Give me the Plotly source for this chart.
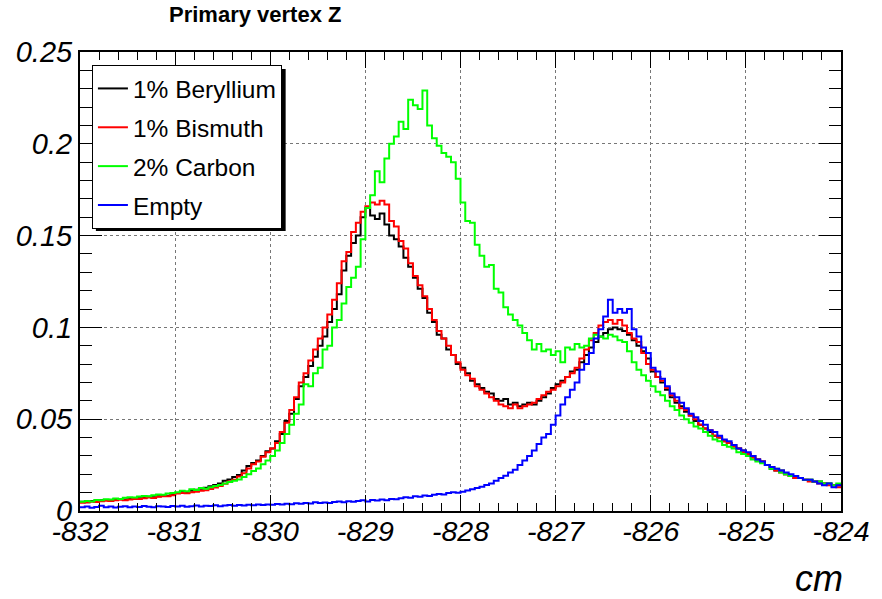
import plotly.graph_objects as go

# Histogram binning: 160 bins of 0.05 cm from -832 to -824
bin_lo = -832.0
bin_w = 0.05

beryllium = [
    0.0050, 0.0048, 0.0055, 0.0052, 0.0058, 0.0060, 0.0057, 0.0063, 0.0066, 0.0062,
    0.0068, 0.0071, 0.0069, 0.0074, 0.0078, 0.0075, 0.0081, 0.0086, 0.0083, 0.0090,
    0.0098, 0.0104, 0.0101, 0.0110, 0.0116, 0.0121, 0.0126, 0.0135, 0.0142, 0.0150,
    0.0165, 0.0172, 0.0185, 0.0196, 0.0220, 0.0245, 0.0262, 0.0275, 0.0300, 0.0325,
    0.034, 0.038, 0.042, 0.049, 0.053, 0.061, 0.068, 0.073, 0.079, 0.084,
    0.090, 0.095, 0.103, 0.110, 0.118, 0.131, 0.139, 0.146, 0.150, 0.160,
    0.165, 0.161, 0.159, 0.162, 0.156, 0.150, 0.148, 0.144, 0.138, 0.133,
    0.127, 0.121, 0.116, 0.108, 0.103, 0.096, 0.094, 0.088, 0.085, 0.080,
    0.078, 0.075, 0.071, 0.069, 0.067, 0.065, 0.064, 0.061, 0.060, 0.061,
    0.058, 0.059, 0.057, 0.058, 0.059, 0.058, 0.060, 0.062, 0.064, 0.067,
    0.069, 0.071, 0.073, 0.076, 0.077, 0.081, 0.085, 0.089, 0.092, 0.095,
    0.097, 0.099, 0.100, 0.099, 0.098, 0.096, 0.093, 0.090, 0.087, 0.083,
    0.076, 0.073, 0.070, 0.066, 0.062, 0.059, 0.057, 0.054, 0.052, 0.049,
    0.047, 0.045, 0.043, 0.041, 0.040, 0.038, 0.037, 0.036, 0.034, 0.033,
    0.031, 0.030, 0.028, 0.027, 0.025, 0.023, 0.022, 0.022, 0.020, 0.019,
    0.018, 0.018, 0.017, 0.017, 0.016, 0.016, 0.015, 0.015, 0.014, 0.014,
]

bismuth = [
    0.0045, 0.0047, 0.0050, 0.0049, 0.0053, 0.0056, 0.0054, 0.0058, 0.0061, 0.0059,
    0.0063, 0.0066, 0.0065, 0.0070, 0.0073, 0.0071, 0.0077, 0.0081, 0.0080, 0.0086,
    0.0095, 0.0098, 0.0096, 0.0102, 0.0105, 0.0110, 0.0113, 0.0120, 0.0128, 0.0136,
    0.0148, 0.0160, 0.0170, 0.0188, 0.0205, 0.0232, 0.0255, 0.0270, 0.0295, 0.0320,
    0.034, 0.037, 0.043, 0.048, 0.055, 0.062, 0.070, 0.075, 0.082, 0.088,
    0.094, 0.100, 0.107, 0.115, 0.124, 0.136, 0.141, 0.152, 0.157, 0.163,
    0.166, 0.168, 0.167, 0.169, 0.167, 0.158, 0.155, 0.147, 0.143, 0.135,
    0.128, 0.123, 0.117, 0.110, 0.104, 0.098, 0.094, 0.090, 0.085, 0.081,
    0.077, 0.074, 0.072, 0.068, 0.066, 0.064, 0.062, 0.060, 0.058, 0.057,
    0.056, 0.058, 0.056, 0.057, 0.058, 0.059, 0.061, 0.063, 0.065, 0.066,
    0.068, 0.070, 0.073, 0.075, 0.078, 0.083, 0.088, 0.093, 0.097, 0.101,
    0.103, 0.104, 0.102, 0.104, 0.101, 0.097, 0.094, 0.092, 0.086, 0.080,
    0.077, 0.073, 0.071, 0.067, 0.063, 0.060, 0.056, 0.055, 0.052, 0.050,
    0.047, 0.045, 0.044, 0.041, 0.040, 0.038, 0.037, 0.035, 0.034, 0.032,
    0.031, 0.029, 0.028, 0.027, 0.025, 0.024, 0.022, 0.021, 0.020, 0.019,
    0.018, 0.018, 0.017, 0.016, 0.016, 0.015, 0.015, 0.014, 0.014, 0.013,
]

carbon = [
    0.0050, 0.0055, 0.0052, 0.0060, 0.0058, 0.0064, 0.0062, 0.0068, 0.0066, 0.0072,
    0.0075, 0.0073, 0.0079, 0.0082, 0.0080, 0.0086, 0.0090, 0.0088, 0.0095, 0.0098,
    0.0102, 0.0110, 0.0107, 0.0118, 0.0115, 0.0125, 0.0121, 0.0130, 0.0136, 0.0142,
    0.0150, 0.0158, 0.0165, 0.0172, 0.0185, 0.0200, 0.0218, 0.0232, 0.0255, 0.0275,
    0.030, 0.033, 0.037, 0.042, 0.047, 0.053, 0.058, 0.069, 0.068, 0.075,
    0.078, 0.088, 0.090, 0.100, 0.104, 0.113, 0.122, 0.127, 0.133, 0.148,
    0.165, 0.172, 0.185, 0.179, 0.192, 0.200, 0.204, 0.212, 0.208, 0.224,
    0.221, 0.219, 0.229, 0.210, 0.203, 0.199, 0.195, 0.193, 0.190, 0.181,
    0.168, 0.158, 0.157, 0.145, 0.139, 0.133, 0.134, 0.121, 0.119, 0.111,
    0.107, 0.104, 0.101, 0.097, 0.093, 0.088, 0.091, 0.087, 0.088, 0.085,
    0.087, 0.081, 0.089, 0.088, 0.091, 0.089, 0.090, 0.094, 0.096, 0.095,
    0.094, 0.096, 0.095, 0.093, 0.092, 0.087, 0.081, 0.077, 0.074, 0.071,
    0.068, 0.065, 0.063, 0.060, 0.057, 0.055, 0.052, 0.050, 0.048, 0.046,
    0.045, 0.043, 0.041, 0.039, 0.038, 0.036, 0.035, 0.034, 0.032, 0.031,
    0.030, 0.028, 0.027, 0.026, 0.025, 0.023, 0.023, 0.021, 0.020, 0.019,
    0.019, 0.018, 0.017, 0.017, 0.016, 0.016, 0.015, 0.015, 0.014, 0.015,
]

empty = [
    0.0020, 0.0025, 0.0018, 0.0022, 0.0028, 0.0020, 0.0024, 0.0019, 0.0023, 0.0026,
    0.0021, 0.0025, 0.0022, 0.0027, 0.0023, 0.0020, 0.0026, 0.0024, 0.0022, 0.0027,
    0.0024, 0.0028, 0.0023, 0.0026, 0.0030, 0.0025, 0.0029, 0.0027, 0.0031, 0.0026,
    0.0030, 0.0033, 0.0028, 0.0032, 0.0030, 0.0034, 0.0031, 0.0036, 0.0033, 0.0035,
    0.0034, 0.0038, 0.0036, 0.0040, 0.0037, 0.0042, 0.0039, 0.0044, 0.0041, 0.0048,
    0.0043, 0.0046, 0.0044, 0.0049, 0.0052, 0.0047, 0.0053, 0.0050, 0.0055, 0.0058,
    0.0052, 0.0060, 0.0057, 0.0062, 0.0059, 0.0066, 0.0064, 0.0070, 0.0075, 0.0072,
    0.0080, 0.0078, 0.0085, 0.0082, 0.0088, 0.0092, 0.0090, 0.0098, 0.0102, 0.0100,
    0.0105, 0.0112, 0.0118, 0.0125, 0.0132, 0.0142, 0.0150, 0.0165, 0.0180, 0.0192,
    0.0210, 0.0225, 0.0250, 0.0275, 0.0300, 0.0330, 0.0365, 0.0400, 0.0420, 0.0470,
    0.052, 0.058, 0.062, 0.066, 0.070, 0.077, 0.080, 0.086, 0.094, 0.099,
    0.106, 0.115, 0.108, 0.110, 0.108, 0.110, 0.099, 0.095, 0.089, 0.086,
    0.078, 0.076, 0.072, 0.068, 0.064, 0.062, 0.059, 0.056, 0.053, 0.051,
    0.049, 0.047, 0.044, 0.043, 0.041, 0.039, 0.038, 0.036, 0.034, 0.033,
    0.032, 0.030, 0.028, 0.027, 0.025, 0.024, 0.023, 0.022, 0.021, 0.020,
    0.019, 0.018, 0.017, 0.017, 0.016, 0.015, 0.014, 0.015, 0.013, 0.014,
]

series_names = ["1% Beryllium", "1% Bismuth", "2% Carbon", "Empty"]
series_values = [beryllium, bismuth, carbon, empty]
series_colors = ["#000000", "#ff0000", "#00ff00", "#0000ff"]

x_ticks = [-832, -831, -830, -829, -828, -827, -826, -825, -824]
x_ticktext = ["-832", "-831", "-830", "-829", "-828", "-827", "-826", "-825", "-824"]
y_ticks = [0, 0.05, 0.1, 0.15, 0.2, 0.25]
y_ticktext = ["0", "0.05", "0.1", "0.15", "0.2", "0.25"]

FONT = "Liberation Sans, Arial, Helvetica, sans-serif"

fig = go.Figure()
for name, vals, col in zip(series_names, series_values, series_colors):
    n = len(vals)
    edges = [bin_lo + i * bin_w for i in range(n + 1)]
    fig.add_trace(go.Scatter(
        x=edges, y=list(vals) + [vals[-1]], mode="lines", name=name,
        line=dict(color=col, width=2, shape="hv"), legendgroup=name,
    ))

W, H = 882, 599
L, R, T, B = 80, 36, 52, 88
pw, ph = W - L - R, H - T - B

def px(xp):
    return (xp - L) / pw

def py(yp):
    return (H - B - yp) / ph

# legend drop shadow (ROOT style), drawn behind the legend box
shadow = [
    dict(type="rect", xref="paper", yref="paper",
         x0=px(96), x1=px(287), y0=py(231), y1=py(69),
         fillcolor="black", line=dict(width=0), layer="above"),
]

fig.update_layout(
    width=W, height=H,
    margin=dict(l=L, r=R, t=T, b=B),
    plot_bgcolor="white", paper_bgcolor="white",
    font=dict(family=FONT, color="black"),
    showlegend=True,
    legend=dict(
        x=px(92), y=py(65), xanchor="left", yanchor="top",
        bgcolor="white", bordercolor="black", borderwidth=1,
        font=dict(size=24.5, family=FONT), tracegroupgap=4,
        traceorder="grouped",
    ),
    shapes=shadow,
    xaxis=dict(
        range=[-832, -824], tickvals=x_ticks, ticktext=x_ticktext,
        ticks="inside", ticklen=16, tickwidth=1, tickcolor="black",
        minor=dict(dtick=0.2, tick0=-832, ticks="inside", ticklen=8, tickcolor="black", showgrid=False),
        showline=True, linewidth=2, linecolor="black", mirror="allticks",
        showgrid=True, gridcolor="#777777", griddash="dot", gridwidth=1,
        zeroline=False, ticklabelstandoff=-6,
        tickfont=dict(size=28.5, family=FONT, style="italic"),
    ),
    yaxis=dict(
        range=[0, 0.25], tickvals=y_ticks, ticktext=y_ticktext,
        ticks="inside", ticklen=22, tickwidth=1, tickcolor="black",
        minor=dict(dtick=0.01, tick0=0, ticks="inside", ticklen=12, tickcolor="black", showgrid=False),
        showline=True, linewidth=2, linecolor="black", mirror="allticks",
        showgrid=True, gridcolor="#777777", griddash="dot", gridwidth=1,
        zeroline=False,
        tickfont=dict(size=29, family=FONT, style="italic"),
    ),
    annotations=[
        dict(text="<b>Primary vertex Z</b>", xref="paper", yref="paper",
             x=px(168), y=py(15), xanchor="left", yanchor="middle",
             showarrow=False, font=dict(size=22, family=FONT)),
        dict(text="cm", xref="paper", yref="paper",
             x=px(850), y=py(578), xanchor="right", yanchor="middle",
             showarrow=False, font=dict(size=36, family=FONT, style="italic")),
    ],
)

fig.write_html("out.html")
